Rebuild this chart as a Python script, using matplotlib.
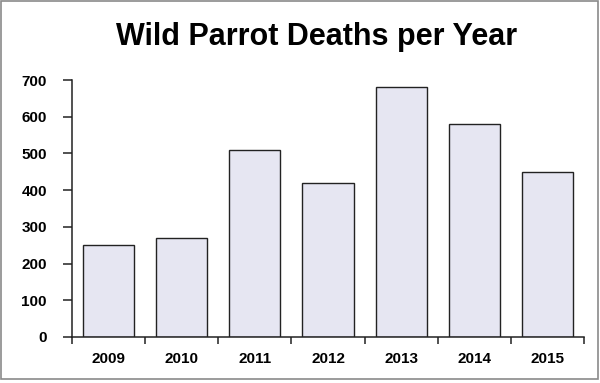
import matplotlib.pyplot as plt
from matplotlib.patches import Rectangle

# data
years = ["2009", "2010", "2011", "2012", "2013", "2014", "2015"]
deaths = [250, 270, 510, 420, 680, 580, 450]
y_ticks = [0, 100, 200, 300, 400, 500, 600, 700]

plt.rcParams["font.family"] = ["Liberation Sans", "DejaVu Sans"]
plt.rcParams["font.weight"] = "bold"

W, H = 600, 383
fig = plt.figure(figsize=(W / 100, H / 100), dpi=100)
ax = fig.add_axes([72 / W, 1 - 337 / H, (584 - 72) / W, (337 - 80) / H])

x = list(range(len(years)))
ax.bar(x, deaths, width=0.7, color="#e6e6f2", edgecolor="#222222", linewidth=1.0)

ax.set_xlim(-0.5, len(years) - 0.5)
ax.set_ylim(0, 700)
ax.set_yticks(y_ticks)
ax.set_yticklabels([str(v) for v in y_ticks], fontsize=11, fontweight="bold")

# labels at bar centres, tick marks at category borders
ax.set_xticks(x)
ax.set_xticklabels(years, fontsize=11, fontweight="bold")
ax.set_xticks([i - 0.5 for i in range(len(years) + 1)], minor=True)
ax.tick_params(axis="x", which="major", length=0, pad=11)
ax.tick_params(axis="x", which="minor", length=5, width=1.1, color="#222222", direction="out")
ax.tick_params(axis="y", length=6.5, width=1.1, color="#222222", pad=11.5)

for side in ["top", "right"]:
    ax.spines[side].set_visible(False)
for side in ["left", "bottom"]:
    ax.spines[side].set_linewidth(1.1)
    ax.spines[side].set_color("#222222")

fig.text(317 / W, 1 - 37 / H, "Wild Parrot Deaths per Year",
         ha="center", va="center", fontsize=22, fontweight="bold")

# thin gray frame around the figure
fig.patches.append(Rectangle((0.5 / W, 1 - 379 / H), 597 / W, 378.5 / H,
                             transform=fig.transFigure, fill=False,
                             edgecolor="#8a8a8a", linewidth=1.2))

fig.savefig("out.png", dpi=100)
